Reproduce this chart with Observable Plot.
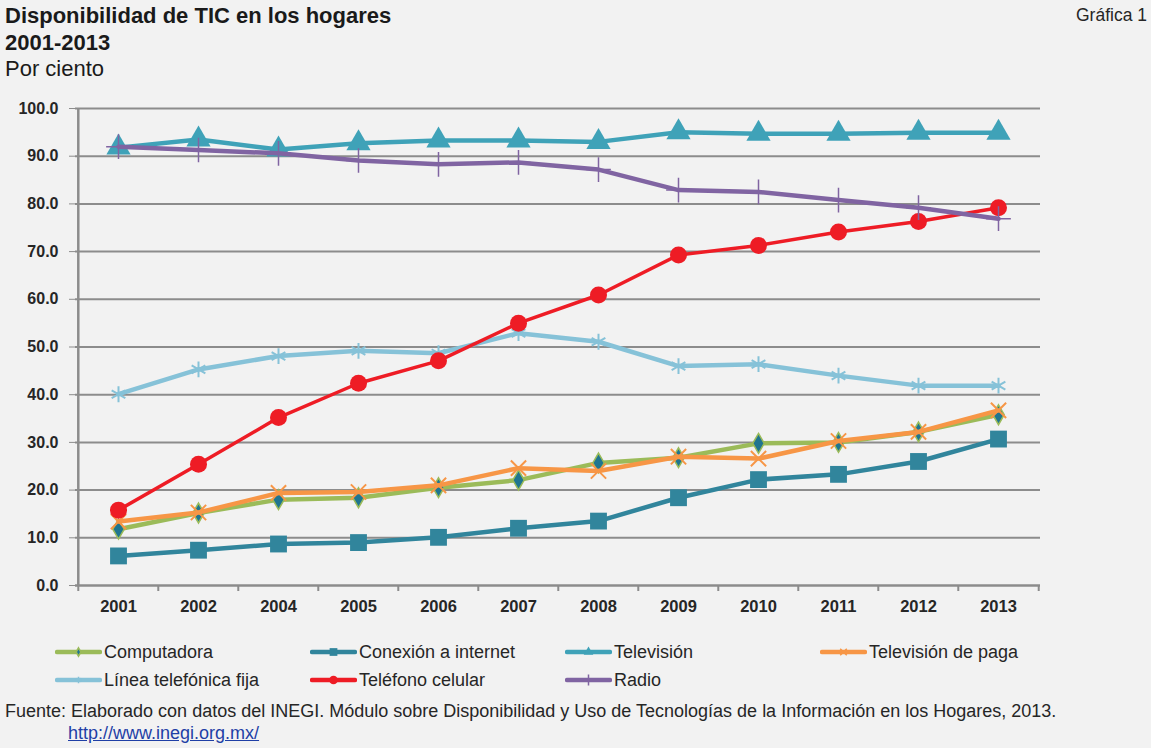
<!DOCTYPE html>
<html>
<head>
<meta charset="utf-8">
<script src="https://cdn.jsdelivr.net/npm/d3@7"></script>
<script src="https://cdn.jsdelivr.net/npm/@observablehq/plot@0.6"></script>
<style>
  html, body { margin:0; padding:0; background:#f2f2f2; }
  body { width:1151px; height:748px; position:relative; overflow:hidden; font-family:"Liberation Sans", Arial, sans-serif; color:#262626; }
  .abs { position:absolute; white-space:nowrap; line-height:1.15; }
  .title { font-weight:bold; font-size:22px; color:#1a1a1a; }
  .sub { font-size:22px; color:#1a1a1a; }
  .leg { position:absolute; display:flex; align-items:center; font-size:18px; color:#262626; white-space:nowrap; }
  .leg svg { margin-right:2px; }
  #chart { position:absolute; left:0; top:90px; }
</style>
</head>
<body>
<div class="abs title" style="left:5px; top:3px;">Disponibilidad de TIC en los hogares</div>
<div class="abs title" style="left:5px; top:30px;">2001-2013</div>
<div class="abs sub" style="left:5px; top:56px;">Por ciento</div>
<div class="abs" style="right:4px; top:5px; font-size:17.5px; color:#262626;">Gráfica 1</div>
<div id="chart"></div>
<div id="legend"></div>
<div class="abs" style="left:5px; top:701px; font-size:18px; color:#262626;">Fuente: Elaborado con datos del INEGI. Módulo sobre Disponibilidad y Uso de Tecnologías de la Información en los Hogares, 2013.</div>
<div class="abs" style="left:68px; top:723px; font-size:18px; color:#1f3fa6; text-decoration:underline;">http://www.inegi.org.mx/</div>
<script>
const years = ["2001","2002","2004","2005","2006","2007","2008","2009","2010","2011","2012","2013"];
const yTicks = [0,10,20,30,40,50,60,70,80,90,100];

const computadora = [11.8, 15.2, 18.0, 18.4, 20.5, 22.1, 25.7, 26.8, 29.8, 30.0, 32.2, 35.8];
const conexion    = [6.2, 7.4, 8.7, 9.0, 10.1, 12.0, 13.5, 18.4, 22.2, 23.3, 26.0, 30.7];
const television  = [91.8, 93.5, 91.4, 92.7, 93.3, 93.3, 93.0, 95.0, 94.7, 94.7, 94.9, 94.9];
const tvPaga      = [13.4, 15.3, 19.4, 19.6, 21.0, 24.6, 24.0, 27.0, 26.6, 30.3, 32.2, 36.7];
const lineaFija   = [40.1, 45.3, 48.1, 49.2, 48.7, 52.9, 51.1, 46.0, 46.4, 44.0, 41.9, 41.9];
const celular     = [15.8, 25.4, 35.2, 42.4, 47.1, 55.0, 60.9, 69.3, 71.3, 74.1, 76.3, 79.2];
const radio       = [92.0, 91.3, 90.6, 89.1, 88.3, 88.7, 87.2, 82.9, 82.5, 80.8, 79.2, 76.9];

const seriesNames = ["Computadora","Conexión a internet","Televisión","Televisión de paga","Línea telefónica fija","Teléfono celular","Radio"];
const seriesValues = [computadora, conexion, television, tvPaga, lineaFija, celular, radio];
const lineColors = ["#9bbb59","#31859c","#3fa2b8","#f79646","#86c2d8","#ee1c25","#8064a2"];
const symbols = ["diamond","square","triangle","times","asterisk","circle","plus"];
const markFill = ["#1f7590","#31859c","#3fa2b8","none","none","#ee1c25","none"];
const markStroke = ["#9bbb59","none","none","#f79646","#86c2d8","none","#8064a2"];
const markR = [6, 9.5, 9, 7, 7.5, 8.5, 8];
const markSW = [1.5, 0, 0, 2, 2, 0, 1.5];
const lineW = [4.5, 4.5, 4.5, 4.5, 4.5, 3.5, 4.5];

const rows = [];
seriesNames.forEach((name, s) => {
  years.forEach((yr, i) => rows.push({series: name, s, year: yr, value: seriesValues[s][i]}));
});

const W = 1151, H = 540, ML = 75, MR = 111, MT = 18, MB = 45;
const step = (W - ML - MR) / years.length;

const marks = [
  Plot.ruleY(yTicks.slice(1), {stroke:"#8c8c8c", strokeWidth:2}),
  Plot.ruleY([0], {stroke:"#8c8c8c", strokeWidth:2.5}),
  Plot.ruleX([years[0]], {dx:-step/2, y1:0, y2:100, stroke:"#8c8c8c", strokeWidth:2.5}),
  Plot.ruleX(years, {x:d=>d, dx:-step/2, y1:0, y2:0, insetBottom:-6, stroke:"#8c8c8c", strokeWidth:2}),
  Plot.ruleX([years[years.length-1]], {dx:step/2, y1:0, y2:0, insetBottom:-6, stroke:"#8c8c8c", strokeWidth:2}),
  Plot.axisY({ticks: yTicks, tickSize:6, tickPadding:11, tickFormat:d=>d.toFixed(1), stroke:"#8c8c8c", fill:"#262626", fontSize:16, fontWeight:"bold", label:null}),
  Plot.axisX({tickSize:0, tickPadding:15, fill:"#262626", fontSize:16.5, fontWeight:"bold", label:null})
];
seriesNames.forEach((name, s) => {
  const data = rows.filter(r => r.s === s);
  marks.push(Plot.line(data, {x:"year", y:"value", stroke: lineColors[s], strokeWidth: lineW[s], strokeLinejoin:"round", strokeLinecap:"round"}));
  marks.push(Plot.dot(data, {x:"year", y:"value", symbol: symbols[s], r: markR[s], fill: markFill[s], stroke: markStroke[s], strokeWidth: markSW[s]}));
});

const chart = Plot.plot({
  width: W, height: H,
  marginLeft: ML, marginRight: MR, marginTop: MT, marginBottom: MB,
  style: {background:"transparent", fontFamily:"'Liberation Sans', Arial, sans-serif", overflow:"visible"},
  x: {type:"point", domain: years, padding:0.5, axis:null},
  y: {domain:[0,100], axis:null},
  marks
});
document.getElementById("chart").appendChild(chart);

// legend
const legPos = [[55,652],[310,652],[565,652],[820,652],[55,680],[310,680],[565,680]];
const legend = document.getElementById("legend");
const symMap = {diamond:d3.symbolDiamond, square:d3.symbolSquare, triangle:d3.symbolTriangle, times:d3.symbolX, asterisk:d3.symbolAsterisk, circle:d3.symbolCircle, plus:d3.symbolPlus};
const legSizes = [20, 60, 40, 30, 30, 60, 40];
seriesNames.forEach((name, s) => {
  const div = document.createElement("div");
  div.className = "leg";
  div.style.left = legPos[s][0] + "px";
  div.style.top = (legPos[s][1] - 11) + "px";
  div.style.height = "22px";
  const svg = d3.create("svg").attr("width", 47).attr("height", 22);
  svg.append("line").attr("x1",2).attr("x2",45).attr("y1",11).attr("y2",11)
    .attr("stroke", lineColors[s]).attr("stroke-width",4.5).attr("stroke-linecap","round");
  svg.append("path").attr("transform","translate(23.5,11)")
    .attr("d", d3.symbol(symMap[symbols[s]], legSizes[s])())
    .attr("fill", markFill[s]).attr("stroke", markStroke[s] === "none" ? "none" : markStroke[s]).attr("stroke-width", 1.5);
  div.appendChild(svg.node());
  const span = document.createElement("span");
  span.textContent = name;
  div.appendChild(span);
  legend.appendChild(div);
});
</script>
</body>
</html>
